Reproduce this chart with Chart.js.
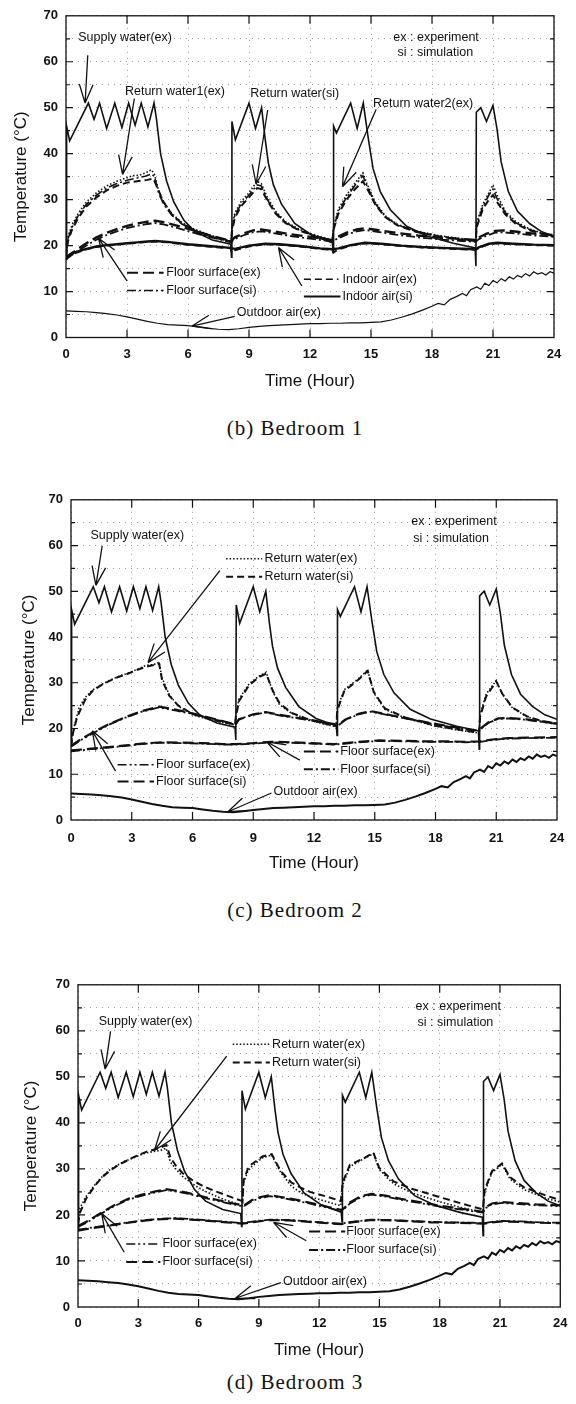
<!DOCTYPE html>
<html>
<head>
<meta charset="utf-8">
<script src="https://cdn.jsdelivr.net/npm/chart.js@4.4.1/dist/chart.umd.min.js"></script>
<style>
	body { margin: 0; background: #fff; width: 576px; height: 1404px; position: relative; overflow: hidden; }
	canvas { position: absolute; left: 0; }
	.cap { position: absolute; left: 0; width: 590px; text-align: center; font: 21px "Liberation Serif", "DejaVu Serif", serif; letter-spacing: 1px; color: #111; }
</style>
</head>
<body>
<canvas id="c1" width="576" height="400" style="top:0px"></canvas>
<div class="cap" style="top:416px">(b) Bedroom 1</div>
<canvas id="c2" width="576" height="400" style="top:484px"></canvas>
<div class="cap" style="top:898px">(c) Bedroom 2</div>
<canvas id="c3" width="576" height="400" style="top:969px"></canvas>
<div class="cap" style="top:1370px">(d) Bedroom 3</div>
<script>
// [hour, temperature] pairs
const supplyWater = [[0,17],[0.03,46],[0.18,42.8],[1.1,51],[1.38,47.5],[1.65,51],[2.0,45.5],[2.4,51],[2.75,45.7],[3.08,51],[3.4,46.2],[3.7,51],[4.03,45.8],[4.33,51],[4.45,47.5],[4.65,40],[4.95,34],[5.3,29.5],[5.8,25.5],[6.35,23],[7.2,21.2],[8.1,20.3],[8.14,17.5],[8.16,47],[8.33,43],[9.0,51],[9.32,45.5],[9.62,50],[9.8,43],[9.95,38],[10.2,33.2],[10.6,29],[11.25,24.8],[12.1,22.2],[13.1,20.6],[13.14,18.5],[13.16,46],[13.3,44.5],[14.0,51],[14.32,45.5],[14.62,51],[14.87,43.2],[15.1,36.8],[15.45,31.8],[15.95,27.8],[16.75,24.2],[17.75,22.1],[19.05,20.5],[20.12,19.5],[20.16,15.5],[20.18,49],[20.4,50],[20.68,47],[21.0,50.5],[21.2,45.3],[21.4,38.2],[21.75,31.8],[22.2,27.5],[22.8,24.8],[23.4,23],[24,22]];
const outdoorAir = [[0,5.8],[0.5,5.7],[1,5.6],[1.5,5.4],[2,5.2],[2.5,4.9],[3,4.5],[3.5,4.0],[4,3.5],[4.5,3.1],[5,2.8],[5.5,2.7],[6,2.6],[6.5,2.3],[7,2.0],[7.5,1.8],[8,1.7],[8.5,1.9],[9,2.2],[9.5,2.4],[10,2.6],[10.5,2.7],[11,2.8],[11.5,2.9],[12,3.0],[12.5,3.0],[13,3.1],[13.5,3.1],[14,3.2],[14.5,3.2],[15,3.3],[15.5,3.4],[16,3.8],[16.5,4.4],[17,5.1],[17.5,5.9],[18,6.8],[18.3,7.4],[18.6,7.1],[18.9,8.3],[19.2,8.9],[19.5,9.6],[19.7,9.1],[19.9,10.4],[20.2,11.0],[20.4,10.5],[20.6,11.8],[20.8,11.3],[21,12.4],[21.2,11.9],[21.4,12.8],[21.6,12.3],[21.8,13.2],[22,12.7],[22.2,13.5],[22.4,13.1],[22.6,13.9],[22.8,13.4],[23,14.3],[23.2,13.8],[23.4,14.1],[23.6,13.6],[23.8,14.3],[24,14]];

// Bedroom 1
const b1ReturnEx1 = [[0,18],[0.1,22],[0.3,24.5],[0.6,27],[1,29.5],[1.5,31.5],[2,33],[2.5,34],[3,34.8],[3.3,35.2],[3.6,35.3],[3.9,35.8],[4.2,36.5],[4.35,35.5],[4.55,32],[4.8,29.5],[5.2,27],[5.7,25],[6.3,23.6],[7,22.4],[7.6,21.6],[8.12,21],[8.16,24],[8.3,27],[8.6,29.5],[9,31.5],[9.4,34],[9.6,33.5],[9.9,30.5],[10.3,27.5],[10.8,25.2],[11.5,23.5],[12.3,22.2],[13.1,21.2],[13.16,24],[13.4,28],[13.8,31],[14.2,33.5],[14.6,35.8],[14.8,33.5],[15.2,29.5],[15.7,26.5],[16.3,24.6],[17.2,23.2],[18.3,22.2],[19.3,21.6],[20.15,21.2],[20.2,25],[20.5,29],[20.8,31.5],[21.0,33.2],[21.2,31],[21.6,27.5],[22.1,25.3],[22.8,23.6],[23.5,22.6],[24,22.2]];
const b1ReturnSi = [[0,17.5],[0.1,21],[0.3,23.5],[0.6,26],[1,28.5],[1.5,30.5],[2,32],[2.5,33],[3,33.7],[3.5,34],[4,34.3],[4.3,34.6],[4.5,32.5],[4.8,29.5],[5.2,26.8],[5.7,24.8],[6.3,23.3],[7,22.2],[7.6,21.4],[8.12,20.8],[8.16,23],[8.3,26],[8.6,28.5],[9,30.5],[9.4,32.5],[9.6,32.3],[9.9,29.8],[10.3,27],[10.8,24.9],[11.5,23.2],[12.3,22],[13.1,21],[13.16,23.5],[13.4,27],[13.8,30],[14.2,32.2],[14.6,34],[14.8,32.5],[15.2,29],[15.7,26.2],[16.3,24.4],[17.2,23],[18.3,22],[19.3,21.4],[20.15,21],[20.2,24],[20.5,28],[20.8,30],[21.0,31],[21.2,29.5],[21.6,26.8],[22.1,24.8],[22.8,23.3],[23.5,22.4],[24,22]];
const b1ReturnEx2 = [[0,17.8],[0.1,21.5],[0.3,24],[0.6,26.5],[1,29],[1.5,31],[2,32.5],[2.5,33.5],[3,34.2],[3.5,34.7],[3.9,35.1],[4.2,35.6],[4.35,35],[4.55,31.5],[4.8,29],[5.2,26.6],[5.7,24.7],[6.3,23.3],[7,22.2],[7.6,21.4],[8.12,20.9],[8.16,23.5],[8.3,26.5],[8.6,29],[9,31],[9.4,33.2],[9.6,33],[9.9,30],[10.3,27.2],[10.8,25],[11.5,23.3],[12.3,22.1],[13.1,21.1],[13.16,23.8],[13.4,27.5],[13.8,30.5],[14.2,33],[14.6,35.2],[14.8,33],[15.2,29.2],[15.7,26.3],[16.3,24.5],[17.2,23.1],[18.3,22.1],[19.3,21.5],[20.15,21.1],[20.2,24.5],[20.5,28.5],[20.8,31],[21.0,32.3],[21.2,30.2],[21.6,27.2],[22.1,25],[22.8,23.5],[23.5,22.5],[24,22.1]];
const b1FloorEx = [[0,17.5],[0.5,19],[1,20.5],[1.5,21.8],[2,22.8],[2.5,23.6],[3,24.3],[3.5,24.8],[4,25.2],[4.4,25.4],[4.8,25.1],[5.5,24.3],[6.2,23.4],[7,22.3],[7.6,21.6],[8.12,21],[8.3,21.8],[8.7,22.6],[9.2,23.3],[9.6,23.5],[10.2,23.1],[11,22.5],[12,21.9],[13.1,21.2],[13.3,21.8],[13.8,22.8],[14.3,23.5],[14.7,23.8],[15.3,23.4],[16.2,22.8],[17.3,22.2],[18.5,21.7],[19.5,21.4],[20.15,21.2],[20.3,21.8],[20.7,22.6],[21.1,23.2],[21.5,23.3],[22.2,23],[23,22.6],[24,22.3]];
const b1FloorSi = [[0,17],[0.5,18.6],[1,20],[1.5,21.3],[2,22.3],[2.5,23.1],[3,23.8],[3.5,24.3],[4,24.7],[4.4,24.9],[4.8,24.6],[5.5,23.8],[6.2,22.9],[7,21.9],[7.6,21.3],[8.12,20.7],[8.3,21.4],[8.7,22.2],[9.2,22.9],[9.6,23.1],[10.2,22.7],[11,22.1],[12,21.5],[13.1,20.9],[13.3,21.4],[13.8,22.4],[14.3,23.1],[14.7,23.4],[15.3,23],[16.2,22.4],[17.3,21.8],[18.5,21.3],[19.5,21],[20.15,20.8],[20.3,21.4],[20.7,22.2],[21.1,22.8],[21.5,22.9],[22.2,22.6],[23,22.2],[24,21.9]];
const b1IndoorEx = [[0,17],[0.2,18],[0.6,18.6],[1,19.2],[1.5,19.7],[2,20],[2.5,20.2],[3,20.4],[3.5,20.6],[4,20.8],[4.4,20.9],[5,20.7],[6,20.2],[7,19.8],[8.1,19.4],[8.15,18.5],[8.3,19],[9,19.8],[9.8,20.3],[10.5,20.2],[11.5,19.8],[12.5,19.3],[13.1,19.1],[13.15,18.5],[13.4,19.2],[14,20],[14.7,20.5],[15.5,20.3],[16.5,19.9],[17.5,19.6],[18.5,19.4],[19.5,19.2],[20.15,19.1],[20.3,19.5],[20.8,20.3],[21.2,20.5],[22,20.3],[23,20.1],[24,20]];
const b1IndoorSi = [[0,17.5],[0.3,18.3],[0.7,18.9],[1,19.3],[1.5,19.8],[2,20.1],[2.5,20.3],[3,20.5],[3.5,20.7],[4,20.9],[4.4,21],[5,20.8],[6,20.3],[7,19.9],[8.1,19.5],[8.3,19.3],[9,20],[9.8,20.4],[10.5,20.3],[11.5,19.9],[12.5,19.4],[13.1,19.2],[13.4,19.4],[14,20.1],[14.7,20.6],[15.5,20.4],[16.5,20],[17.5,19.7],[18.5,19.5],[19.5,19.3],[20.15,19.2],[20.3,19.6],[20.8,20.4],[21.2,20.6],[22,20.4],[23,20.2],[24,20.1]];

// Bedroom 2
const b2ReturnEx = [[0,16],[0.05,18],[0.16,20.5],[0.4,24.5],[0.7,26.8],[1.06,28.4],[1.5,29.6],[1.9,30.5],[2.3,31.3],[2.7,31.9],[3.2,32.8],[3.7,33.8],[4.1,34],[4.35,34.5],[4.5,31],[4.85,27.4],[5.3,24.9],[6,23],[6.8,22],[7.5,21.3],[8.1,20.8],[8.14,23],[8.3,26.5],[8.8,29.8],[9.3,31.5],[9.64,32.3],[9.95,28.2],[10.3,25.2],[10.9,23.3],[11.6,22.2],[12.3,21.2],[13.1,20.4],[13.15,24.5],[13.5,28.5],[14.2,30.9],[14.65,32.8],[14.95,27.8],[15.5,24.2],[16.5,22.3],[18,20.5],[19.2,19.6],[20.15,19],[20.2,23],[20.5,27.5],[21.0,30.5],[21.3,27.5],[21.8,24.5],[22.5,22.6],[23.2,21.6],[24,21]];
const b2ReturnSi = [[0,16],[0.1,19],[0.3,22.5],[0.7,26.3],[1.06,28.2],[1.5,29.5],[1.9,30.4],[2.3,31.2],[2.7,31.8],[3.2,32.7],[3.7,33.5],[4.1,33.9],[4.35,34.2],[4.5,30.5],[4.85,27.2],[5.3,25],[6,23.2],[6.8,22.1],[7.5,21.4],[8.1,20.9],[8.14,22.5],[8.3,26],[8.8,29.5],[9.3,31.3],[9.64,32],[9.95,28.4],[10.3,25.5],[10.9,23.4],[11.6,22.2],[12.3,21.3],[13.1,20.5],[13.15,24],[13.5,28.2],[14.2,30.7],[14.65,32.6],[14.95,28],[15.5,24.4],[16.5,22.4],[18,20.6],[19.2,19.7],[20.15,19.1],[20.2,22.5],[20.5,27],[21.0,30.3],[21.3,27.6],[21.8,24.6],[22.5,22.7],[23.2,21.7],[24,21.1]];
const b2FloorEx = [[0,16],[0.5,17.5],[1.06,18.9],[1.9,20.9],[2.7,22.4],[3.5,23.7],[4.35,24.6],[5.2,23.9],[6,23.2],[7,22.1],[7.96,21],[8.1,20.6],[8.3,22.1],[9,23],[9.62,23.5],[10.27,22.9],[11.5,22],[12.3,21.4],[13.06,20.8],[13.15,20.5],[13.56,21.9],[14.2,23.1],[14.8,23.7],[15.8,22.8],[16.84,21.9],[18,20.9],[19.2,20],[20.13,19.4],[20.2,19.8],[20.6,21.2],[21.1,22.1],[21.6,22.2],[22.5,21.9],[23.3,21.4],[24,21]];
const b2FloorSi = [[0,16.2],[0.5,17.7],[1.06,19.1],[1.9,21],[2.7,22.5],[3.5,23.8],[4.35,24.8],[5.2,24.1],[6,23.3],[7,22.2],[7.96,21.1],[8.1,20.8],[8.3,22],[9,23.1],[9.62,23.6],[10.27,23],[11.5,22.1],[12.3,21.5],[13.06,20.9],[13.15,20.7],[13.56,22],[14.2,23.2],[14.8,23.8],[15.8,22.9],[16.84,22],[18,21],[19.2,20.1],[20.13,19.5],[20.2,19.9],[20.6,21.3],[21.1,22.2],[21.6,22.3],[22.5,22],[23.3,21.5],[24,21.1]];
const b2LowerEx = [[0,15.2],[1,15.6],[2,16],[2.7,16.3],[3.5,16.7],[4.5,17],[5.5,16.9],[6.5,16.8],[7.5,16.6],[8.1,16.6],[9,16.8],[9.9,17.1],[10.8,17],[11.9,16.8],[13,16.6],[14,17],[15.2,17.4],[16.5,17.3],[17.5,17.2],[18.5,17.2],[19.5,17.1],[20.2,17.2],[21,17.7],[21.6,17.9],[22.5,18],[24,18.1]];
const b2LowerSi = [[0,15],[1,15.5],[2,15.9],[2.7,16.2],[3.5,16.6],[4.5,16.9],[5.5,16.8],[6.5,16.7],[7.5,16.5],[8.1,16.5],[9,16.7],[9.9,17],[10.8,16.9],[11.9,16.7],[13,16.5],[14,16.9],[15.2,17.3],[16.5,17.2],[17.5,17.1],[18.5,17.1],[19.5,17],[20.2,17.1],[21,17.6],[21.6,17.8],[22.5,17.9],[24,18]];

// Bedroom 3
const b3ReturnEx = [[0,19],[0.1,21.5],[0.4,24],[0.85,26.6],[1.2,28.3],[1.58,29.8],[2.0,30.9],[2.3,31.6],[2.8,32.5],[3.39,33.5],[3.8,33.8],[4.1,34],[4.38,34.5],[4.6,31.5],[4.9,29.8],[5.2,28.4],[5.74,26.6],[6.3,25.2],[6.8,24.2],[7.3,23.3],[7.73,22.7],[8.19,22],[8.24,27],[8.45,29.5],[8.64,30.5],[9.18,32.4],[9.64,33],[10.09,29.2],[10.63,26.2],[11.1,24.8],[11.54,24],[12.45,22.8],[13.08,22],[13.17,26.5],[13.53,30.5],[14.26,32.3],[14.7,33.3],[14.98,30],[15.4,28],[15.7,26.8],[16.6,24.8],[17.9,23],[19.15,21.5],[20.15,20.6],[20.24,25],[20.6,29.2],[21.1,31],[21.5,27.8],[22.2,25.5],[23.3,23.6],[24,22.8]];
const b3ReturnSi = [[0,18],[0.1,20.5],[0.4,23.5],[0.85,26.4],[1.2,28.2],[1.58,29.6],[2.0,30.8],[2.3,31.5],[2.8,32.6],[3.39,33.7],[3.8,34.2],[4.1,34.6],[4.4,35.2],[4.6,32.5],[4.9,30.5],[5.2,29.1],[5.74,27.4],[6.3,26.1],[6.8,25.2],[7.3,24.4],[7.73,23.7],[8.19,23],[8.24,27.5],[8.45,30],[8.64,31],[9.18,32.7],[9.64,33.2],[10.09,29.5],[10.63,27],[11.1,25.9],[11.54,25],[12.45,23.9],[13.08,23],[13.17,27],[13.53,30.9],[14.26,32.4],[14.7,33.5],[14.98,30.3],[15.4,28.5],[15.7,27.3],[16.6,25.7],[17.9,24],[19.15,22.4],[20.15,21.2],[20.24,25.5],[20.6,29.5],[21.1,31.2],[21.5,28.2],[22.2,26],[23.3,24.2],[24,23.2]];
const b3FloorEx = [[0,17.4],[0.5,18.5],[1.2,20.4],[1.8,21.9],[2.5,23.3],[3.1,24.1],[3.75,24.8],[4.38,25.4],[5,25],[5.56,24.5],[6.3,23.7],[7,23],[7.6,22.4],[8.19,21.9],[8.3,22],[8.64,23],[9.1,23.7],[9.55,24.1],[10.1,23.7],[10.63,23.3],[11.5,22.5],[12.3,21.7],[13.08,20.9],[13.17,21],[13.53,22.5],[14.1,23.9],[14.6,24.4],[15.3,24],[16.07,23.3],[17,22.6],[17.9,21.9],[19,21.2],[20.15,20.5],[20.3,21.5],[20.6,22.3],[21.1,22.6],[21.8,22.4],[22.8,22.1],[24,21.9]];
const b3FloorSi = [[0,17.6],[0.5,18.7],[1.2,20.6],[1.8,22.1],[2.5,23.5],[3.1,24.3],[3.75,25],[4.38,25.6],[5,25.2],[5.56,24.7],[6.3,23.9],[7,23.2],[7.6,22.6],[8.19,22.1],[8.3,22.2],[8.64,23.2],[9.1,23.9],[9.55,24.3],[10.1,23.9],[10.63,23.5],[11.5,22.7],[12.3,21.9],[13.08,21.1],[13.17,21.2],[13.53,22.7],[14.1,24.1],[14.6,24.6],[15.3,24.2],[16.07,23.5],[17,22.8],[17.9,22.1],[19,21.4],[20.15,20.7],[20.3,21.7],[20.6,22.5],[21.1,22.8],[21.8,22.6],[22.8,22.3],[24,22.1]];
const b3LowerEx = [[0,16.6],[0.8,17.2],[1.6,17.7],[2.5,18.3],[3.39,18.8],[4.2,19.1],[4.84,19.2],[5.6,19],[6.5,18.7],[7.4,18.4],[8.19,18.1],[8.6,18.4],[9.55,18.9],[10.5,18.8],[11.5,18.5],[12.4,18.2],[13.1,18],[13.6,18.4],[14.6,18.9],[15.6,18.8],[16.6,18.6],[17.6,18.4],[18.6,18.3],[19.6,18.2],[20.2,18.1],[20.6,18.4],[21.1,18.6],[22,18.5],[23,18.3],[24,18.2]];
const b3LowerSi = [[0,16.8],[0.8,17.3],[1.6,17.8],[2.5,18.4],[3.39,18.9],[4.2,19.2],[4.84,19.3],[5.6,19.1],[6.5,18.8],[7.4,18.5],[8.19,18.2],[8.6,18.5],[9.55,19],[10.5,18.9],[11.5,18.6],[12.4,18.3],[13.1,18.1],[13.6,18.5],[14.6,19],[15.6,18.9],[16.6,18.7],[17.6,18.5],[18.6,18.4],[19.6,18.3],[20.2,18.2],[20.6,18.5],[21.1,18.7],[22,18.6],[23,18.4],[24,18.3]];

const SOLID = [], DOT = [1.5, 2], DASH = [7, 4], LONG = [11, 5], DASHDOT = [9, 3, 2, 3], DASHDOTDOT = [9, 3, 2, 3, 2, 3];
const INK = "#111";

const line = (label, pts, w, dash) => ({
	label,
	data: pts.map((p) => ({ x: p[0], y: p[1] })),
	borderColor: INK,
	borderWidth: w,
	borderDash: dash,
	pointRadius: 0,
	fill: false,
	tension: 0,
});

// annotation text, key samples and arrows, all in data units
const notes1 = {
	texts: [["Supply water(ex)", 0.6, 65.3], ["ex : experiment", 16.1, 65.3], ["si : simulation", 16.3, 61.9], ["Return water1(ex)", 2.9, 53.5], ["Return water(si)", 9.06, 53.1], ["Return water2(ex)", 15.1, 51], ["Floor surface(ex)", 4.93, 14.1], ["Floor surface(si)", 4.93, 10.2], ["Indoor air(ex)", 13.6, 12.7], ["Indoor air(si)", 13.6, 8.9], ["Outdoor air(ex)", 8.4, 5.4]],
	keys: [[3.0, 4.8, 14.1, LONG, 2], [3.0, 4.8, 10.2, DASHDOT, 1.5], [11.7, 13.4, 12.7, DASH, 1.5], [11.7, 13.5, 8.9, SOLID, 2]],
	arrows: [[1.07, 61.4, 0.94, 51], [3.36, 52, 2.78, 35.5], [9.92, 49.5, 9.35, 33.4], [15.25, 49.6, 13.6, 32.8], [3.0, 12.3, 1.6, 21.6], [11.6, 11.2, 10.45, 19.6], [8.3, 4.6, 6.2, 2.5]],
};
const notes2 = {
	texts: [["Supply water(ex)", 0.96, 62.1], ["ex : experiment", 16.8, 65.2], ["si : simulation", 16.9, 61.6], ["Return water(ex)", 9.55, 57.1], ["Return water(si)", 9.55, 53.2], ["Floor surface(ex)", 4.2, 12.1], ["Floor surface(si)", 4.2, 8.4], ["Floor surface(ex)", 13.3, 15], ["Floor surface(si)", 13.3, 11.1], ["Outdoor air(ex)", 10.0, 6.3]],
	keys: [[7.66, 9.44, 57.1, DOT, 1.5], [7.66, 9.44, 53.2, DASH, 2], [2.3, 4.1, 12.1, DASHDOTDOT, 1.5], [2.3, 4.1, 8.4, LONG, 2], [11.5, 13.2, 15, LONG, 2], [11.5, 13.2, 11.1, DASHDOT, 2]],
	arrows: [[1.54, 59.9, 1.23, 51.3], [7.35, 54.5, 3.8, 34.4], [2.2, 10.7, 1.05, 19.5], [11.3, 13.1, 9.66, 17.1], [9.9, 5.9, 7.75, 1.8]],
};
const notes3 = {
	texts: [["Supply water(ex)", 1.03, 62.1], ["ex : experiment", 16.8, 65.3], ["si : simulation", 16.9, 61.7], ["Return water(ex)", 9.66, 57.1], ["Return water(si)", 9.66, 53.1], ["Floor surface(ex)", 4.2, 13.7], ["Floor surface(si)", 4.2, 9.8], ["Floor surface(ex)", 13.35, 16.4], ["Floor surface(si)", 13.35, 12.4], ["Outdoor air(ex)", 10.2, 5.5]],
	keys: [[7.7, 9.55, 57.1, DOT, 1.5], [7.7, 9.55, 53.1, DASH, 2], [2.4, 4.1, 13.7, DASHDOTDOT, 1.5], [2.4, 4.1, 9.8, LONG, 2], [11.5, 13.3, 16.4, LONG, 2], [11.5, 13.3, 12.4, DASHDOT, 2]],
	arrows: [[1.62, 59.9, 1.35, 51.7], [7.4, 54.5, 3.8, 34], [2.3, 11.9, 1.18, 20.3], [11.36, 14.4, 9.73, 18.4], [10.1, 5.3, 7.83, 1.9]],
};

const makeNotes = (notes) => ({
	id: "notes",
	afterDatasetsDraw(chart) {
		const { ctx, chartArea: a, scales } = chart;
		const X = (v) => scales.x.getPixelForValue(v);
		const Y = (v) => scales.y.getPixelForValue(v);
		ctx.save();
		ctx.strokeStyle = INK;
		ctx.setLineDash([]);

		// frame with inward ticks
		ctx.lineWidth = 1.3;
		ctx.strokeRect(a.left, a.top, a.right - a.left, a.bottom - a.top);
		ctx.lineWidth = 1.2;
		ctx.beginPath();
		for (let h = 3; h < 24; h += 3) {
			ctx.moveTo(X(h), a.bottom); ctx.lineTo(X(h), a.bottom - 8);
			ctx.moveTo(X(h), a.top); ctx.lineTo(X(h), a.top + 8);
		}
		for (let t = 5; t < 70; t += 5) {
			const len = t % 10 === 0 ? 7 : 4;
			ctx.moveTo(a.left, Y(t)); ctx.lineTo(a.left + len, Y(t));
			ctx.moveTo(a.right, Y(t)); ctx.lineTo(a.right - len, Y(t));
		}
		ctx.stroke();

		// key samples
		notes.keys.forEach(([h1, h2, t, dash, w]) => {
			ctx.lineWidth = w;
			ctx.setLineDash(dash);
			ctx.beginPath();
			ctx.moveTo(X(h1), Y(t));
			ctx.lineTo(X(h2), Y(t));
			ctx.stroke();
		});
		ctx.setLineDash([]);

		// arrows, head at the second point
		ctx.lineWidth = 1.3;
		notes.arrows.forEach(([h1, t1, h2, t2]) => {
			const x1 = X(h1), y1 = Y(t1), x2 = X(h2), y2 = Y(t2);
			const ang = Math.atan2(y2 - y1, x2 - x1);
			ctx.beginPath();
			ctx.moveTo(x1, y1);
			ctx.lineTo(x2, y2);
			[0.35, -0.35].forEach((d) => {
				ctx.moveTo(x2, y2);
				ctx.lineTo(x2 - 20 * Math.cos(ang + d), y2 - 20 * Math.sin(ang + d));
			});
			ctx.stroke();
		});

		// labels
		ctx.fillStyle = INK;
		ctx.font = '12.5px "Liberation Sans", Arial, sans-serif';
		ctx.textBaseline = "middle";
		ctx.textAlign = "left";
		notes.texts.forEach(([s, h, t]) => ctx.fillText(s, X(h), Y(t)));
		ctx.restore();
	},
});

function drawChart(id, g, datasets, notes) {
	new Chart(document.getElementById(id), {
		type: "line",
		data: { datasets },
		plugins: [makeNotes(notes)],
		options: {
			responsive: false,
			animation: false,
			layout: { padding: { left: 0, top: g.top, right: 576 - g.right, bottom: 0 } },
			plugins: { legend: { display: false }, tooltip: { enabled: false } },
			scales: {
				x: {
					type: "linear",
					min: 0,
					max: 24,
					afterFit: (s) => { s.height = 400 - g.bottom; },
					ticks: { stepSize: 3, padding: g.xPad, color: INK, font: { family: "Liberation Sans", size: 13, weight: "bold" } },
					grid: { color: "#9a9a9a", lineWidth: 1, drawTicks: false },
					border: { display: false, dash: [1, 5] },
					title: { display: true, text: "Time (Hour)", color: INK, font: { family: "Liberation Sans", size: 17 }, padding: { top: 0, bottom: g.xTitlePad } },
				},
				y: {
					min: 0,
					max: 70,
					afterFit: (s) => { s.width = g.left; },
					ticks: { stepSize: 5, padding: 8, color: INK, callback: (v) => (v % 10 === 0 ? v : ""), font: { family: "Liberation Sans", size: 13, weight: "bold" } },
					grid: { color: "#9a9a9a", lineWidth: 1, drawTicks: false },
					border: { display: false, dash: [1, 5] },
					title: { display: true, text: "Temperature (°C)", color: INK, font: { family: "Liberation Sans", size: 17 }, padding: { top: g.yTitlePad, bottom: 0 } },
				},
			},
		},
	});
}

drawChart("c1", { left: 66, right: 554, top: 11.5, bottom: 337.5, xPad: 9, xTitlePad: 8, yTitlePad: 11 }, [
	line("Supply water(ex)", supplyWater, 1.6, SOLID),
	line("Return water1(ex)", b1ReturnEx1, 1.6, DOT),
	line("Return water(si)", b1ReturnSi, 2, DASH),
	line("Return water2(ex)", b1ReturnEx2, 1.6, DASHDOT),
	line("Floor surface(ex)", b1FloorEx, 2.4, LONG),
	line("Floor surface(si)", b1FloorSi, 1.8, DASHDOT),
	line("Indoor air(ex)", b1IndoorEx, 2, DASH),
	line("Indoor air(si)", b1IndoorSi, 2.4, SOLID),
	line("Outdoor air(ex)", outdoorAir, 1.2, SOLID),
], notes1);

drawChart("c2", { left: 71, right: 557, top: 12.5, bottom: 336, xPad: 10.5, xTitlePad: 10, yTitlePad: 19 }, [
	line("Supply water(ex)", supplyWater, 1.6, SOLID),
	line("Return water(ex)", b2ReturnEx, 1.6, DOT),
	line("Return water(si)", b2ReturnSi, 2, DASH),
	line("Floor surface(ex)", b2FloorEx, 1.8, DASHDOTDOT),
	line("Floor surface(si)", b2FloorSi, 2.2, LONG),
	line("Floor surface(ex)", b2LowerEx, 2.2, LONG),
	line("Floor surface(si)", b2LowerSi, 1.8, DASHDOT),
	line("Outdoor air(ex)", outdoorAir, 2, SOLID),
], notes2);

drawChart("c3", { left: 78, right: 566, top: 12, bottom: 338, xPad: 8.5, xTitlePad: 8, yTitlePad: 21 }, [
	line("Supply water(ex)", supplyWater, 1.6, SOLID),
	line("Return water(ex)", b3ReturnEx, 1.6, DOT),
	line("Return water(si)", b3ReturnSi, 2, DASH),
	line("Floor surface(ex)", b3FloorEx, 1.8, DASHDOTDOT),
	line("Floor surface(si)", b3FloorSi, 2.2, LONG),
	line("Floor surface(ex)", b3LowerEx, 2.2, LONG),
	line("Floor surface(si)", b3LowerSi, 1.8, DASHDOT),
	line("Outdoor air(ex)", outdoorAir, 2, SOLID),
], notes3);
</script>
</body>
</html>
